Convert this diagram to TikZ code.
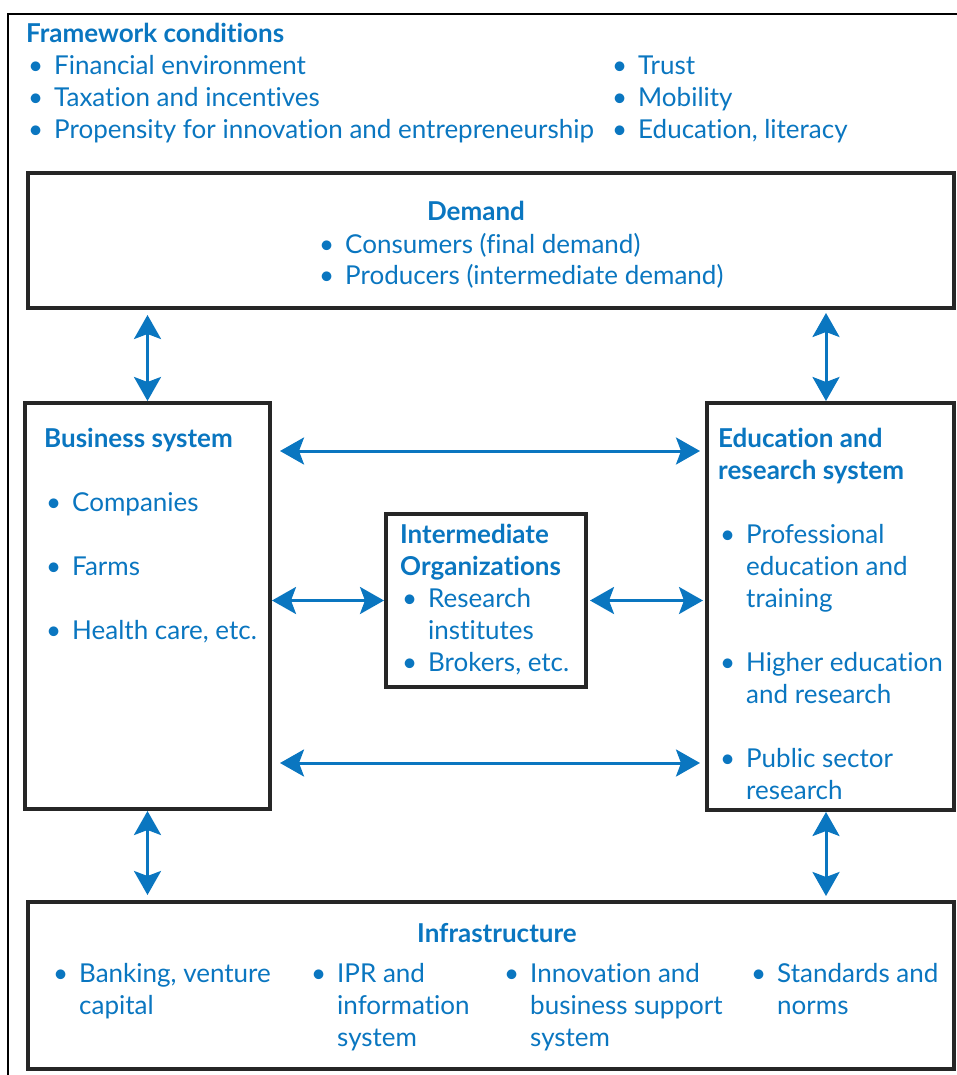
\documentclass[tikz,border=0pt]{standalone}
\usepackage{fontspec}
\setmainfont[Ligatures=NoCommon]{Lato}
\usetikzlibrary{arrows.meta}
\definecolor{irsblue}{RGB}{10,118,192}
\definecolor{boxgrey}{RGB}{38,38,38}

% bullet item and continuation line
\newcommand{\bul}{\makebox[28pt][l]{\hspace{2pt}\textbullet}}
\newcommand{\cont}{\hspace*{28pt}}
\newcommand{\blist}[1]{\begin{tabular}[t]{@{}l@{}}#1\end{tabular}}

\tikzset{
    box/.style={draw=boxgrey, line width=4pt, inner sep=0pt},
    txt/.style={text=irsblue, inner sep=0pt, anchor=base west,
        font=\fontsize{26}{32}\selectfont},
    link/.style={draw=irsblue, line width=3pt,
        {Stealth[length=24pt,width=27pt,inset=5pt]}-{Stealth[length=24pt,width=27pt,inset=5pt]}},
}

\begin{document}
\begin{tikzpicture}[x=1pt,y=-1pt]
    \useasboundingbox (0,0) rectangle (957,1075);
    \draw[line width=1.5pt] (8,1075) -- (8,14) -- (957,14);

    % framework conditions
    \node[txt] (fwleft) at (26,43) {\blist{\textbf{Framework conditions}\\
        \bul Financial environment\\
        \bul Taxation and incentives\\
        \bul Propensity for innovation and entrepreneurship}};
    \node[txt] (fwright) at (610,75) {\blist{\bul Trust\\
        \bul Mobility\\
        \bul Education, literacy}};

    % boxes
    \node[box, minimum width=926, minimum height=135] (demand) at (491,240.5) {};
    \node[box, minimum width=245, minimum height=406] (business) at (147.5,606) {};
    \node[box, minimum width=247, minimum height=407] (education) at (830.5,606.5) {};
    \node[box, minimum width=200, minimum height=173] (intermediate) at (486,600.5) {};
    \node[box, minimum width=926, minimum height=167] (infra) at (491,985.5) {};

    % demand
    \node[txt, anchor=base] (demandtitle) at (476,221) {\textbf{Demand}};
    \node[txt] (demanditems) at (317,253) {\blist{\bul Consumers (final demand)\\
        \bul Producers (intermediate demand)}};

    % business system
    \node[txt] (businesstext) at (44,447) {\blist{\textbf{Business system}\\ \\
        \bul Companies\\ \\
        \bul Farms\\ \\
        \bul Health care, etc.}};

    % education and research
    \node[txt] (educationtext) at (718,447) {\blist{\textbf{Education and}\\
        \textbf{research system}\\ \\
        \bul Professional\\ \cont education and\\ \cont training\\ \\
        \bul Higher education\\ \cont and research\\ \\
        \bul Public sector\\ \cont research}};

    % intermediate organizations
    \node[txt] (intermediatetext) at (400,543) {\blist{\textbf{Intermediate}\\
        \textbf{Organizations}\\
        \bul Research\\ \cont institutes\\
        \bul Brokers, etc.}};

    % infrastructure
    \node[txt, anchor=base] (infratitle) at (497,942) {\textbf{Infrastructure}};
    \node[txt] (infraA) at (51,982) {\blist{\bul Banking, venture\\ \cont capital}};
    \node[txt] (infraB) at (309,982) {\blist{\bul IPR and\\ \cont information\\ \cont system}};
    \node[txt] (infraC) at (502,982) {\blist{\bul Innovation and\\ \cont business support\\ \cont system}};
    \node[txt] (infraD) at (749,982) {\blist{\bul Standards and\\ \cont norms}};

    % links
    \coordinate (toplink) at (0,451);
    \coordinate (botlink) at (0,763);
    \draw[link, shorten <=5pt] (business.north |- demand.south) -- (business.north);
    \draw[link, shorten <=3pt] ([xshift=-4.5pt]education.north |- demand.south) -- ([xshift=-4.5pt]education.north);
    \draw[link, shorten >=5pt] (business.south) -- (business.south |- infra.north);
    \draw[link, shorten >=4pt] ([xshift=-4.5pt]education.south) -- ([xshift=-4.5pt]education.south |- infra.north);
    \draw[link, shorten <=8pt, shorten >=5pt] (business.east |- toplink) -- (education.west |- toplink);
    \draw[link, shorten <=8pt, shorten >=5pt] (business.east |- botlink) -- (education.west |- botlink);
    \draw[link] (business.east |- intermediate.west) -- (intermediate.west);
    \draw[link, shorten <=2pt, shorten >=2pt] (intermediate.east) -- (education.west |- intermediate.east);
\end{tikzpicture}
\end{document}
